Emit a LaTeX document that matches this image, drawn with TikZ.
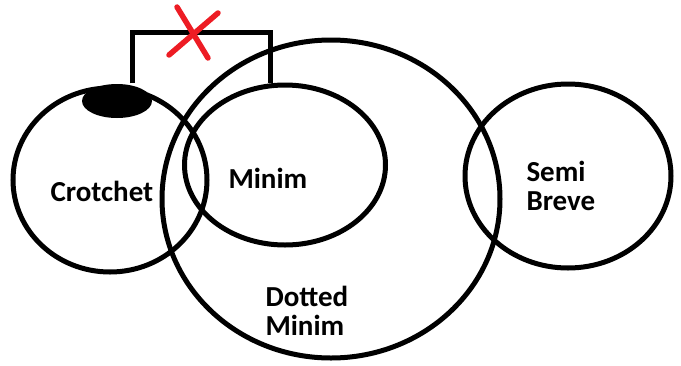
\documentclass[tikz,border=0pt]{standalone}
\usepackage{fontspec}
\setmainfont{Carlito}
\usetikzlibrary{shapes.geometric}
\definecolor{paintred}{RGB}{237,28,36}

\begin{document}
\begin{tikzpicture}[x=1pt, y=-1pt, line width=5pt,
    set/.style={draw, ellipse, inner sep=0pt},
    lbl/.style={font=\bfseries\fontsize{29}{29}\selectfont, align=left, inner sep=0pt},
    redx/.style={draw=paintred, line width=5.5pt, line cap=round}]
    \useasboundingbox (0,0) rectangle (681,365);
    % sets
    \node[set, minimum width=194pt, minimum height=184pt] (crotchet) at (110,180) {};
    \node[set, minimum width=338pt, minimum height=318pt] (dotted) at (331,199) {};
    \node[set, minimum width=201pt, minimum height=160pt] (minim) at (285,165) {};
    \node[set, minimum width=206pt, minimum height=184pt] (semibreve) at (568,176) {};
    \node[ellipse, fill, minimum width=70pt, minimum height=34pt, inner sep=0pt] (blob) at (117,101) {};
    % labels
    \node[lbl, anchor=base west] (tcrotchet) at (48,201) {Crotchet};
    \node[lbl, anchor=base west] (tminim) at (226,188) {Minim};
    \node[lbl, anchor=base west] (tsemi) at (524,210) {Semi\\Breve};
    \node[lbl, anchor=base west] (tdotted) at (263,335) {Dotted\\Minim};
    % tie, crossed out
    \coordinate (tietop) at (200,32);
    \draw (blob.48) |- (tietop) -| (minim.100);
    \coordinate (cross) at (193,33);
    \draw[redx] (cross) ++(-16,-26) -- ++(31,51);
    \draw[redx] (cross) ++(25,-20) -- ++(-49,42);
\end{tikzpicture}
\end{document}
